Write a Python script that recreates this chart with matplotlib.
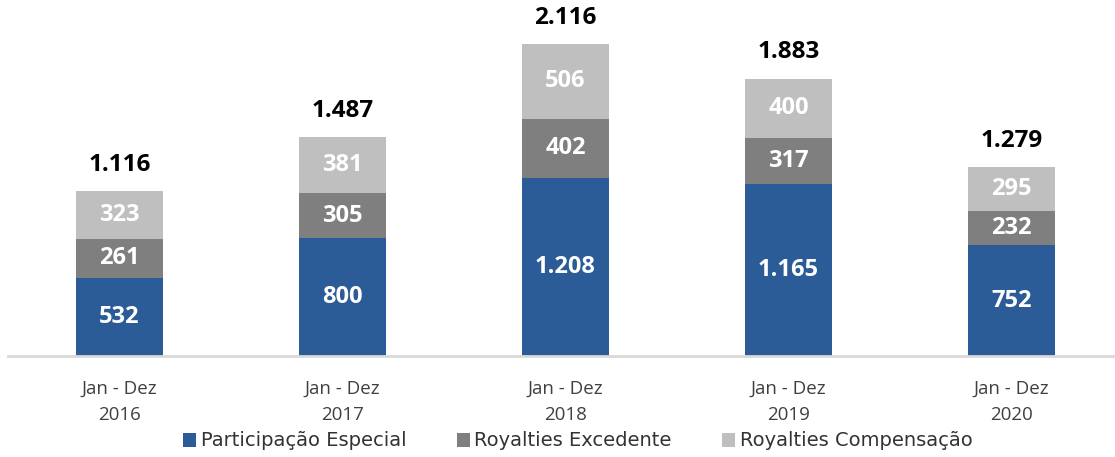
import matplotlib.pyplot as plt
import numpy as np

years = ['2016', '2017', '2018', '2019', '2020']
tick_labels = [f'Jan - Dez\n{y}' for y in years]
participacao = [532, 800, 1208, 1165, 752]
excedente = [261, 305, 402, 317, 232]
compensacao = [323, 381, 506, 400, 295]
totals = [1116, 1487, 2116, 1883, 1279]

series_names = ['Participação Especial', 'Royalties Excedente', 'Royalties Compensação']
colors = ['#2B5C97', '#7F7F7F', '#BFBFBF']


def fmt(v):
    return f'{v:,}'.replace(',', '.')


fig = plt.figure(figsize=(11.15, 4.57), dpi=100)
ax = fig.add_axes([8 / 1115, 1 - 356 / 457, 1115 / 1115, 356 / 457])

x = np.arange(len(years))
w = 0.386
bottom = np.zeros(len(years))
for vals, col, name in zip([participacao, excedente, compensacao], colors, series_names):
    ax.bar(x, vals, w, bottom=bottom, color=col, label=name)
    for xi, b, v in zip(x, bottom, vals):
        ax.text(xi, b + v / 2, fmt(v), ha='center', va='center', color='white',
                fontsize=17, fontweight='bold', family='Open Sans')
    bottom += np.array(vals)

for xi, t in zip(x, totals):
    ax.text(xi, t + 95, fmt(t), ha='center', va='bottom', color='black',
            fontsize=17.5, fontweight='bold', family='Open Sans')

ax.set_xlim(-0.5, len(years) - 0.5)
ax.set_ylim(0, 2415)
ax.set_xticks(x)
ax.set_xticklabels(tick_labels, fontsize=13.5, color='#404040', family='Open Sans', linespacing=1.6)
ax.tick_params(axis='x', length=0, pad=17)
ax.set_yticks([])
for s in ['top', 'right', 'left']:
    ax.spines[s].set_visible(False)
ax.spines['bottom'].set_color('#D9D9D9')
ax.spines['bottom'].set_linewidth(2)

fig.legend(loc='center', bbox_to_anchor=(578 / 1115, 1 - 441 / 457), ncol=3, frameon=False,
           prop={'family': 'DejaVu Sans', 'size': 14}, handlelength=0.65, handleheight=0.75,
           handletextpad=0.25, columnspacing=2.6, labelcolor='#333333')

fig.savefig('out.png', dpi=100)
